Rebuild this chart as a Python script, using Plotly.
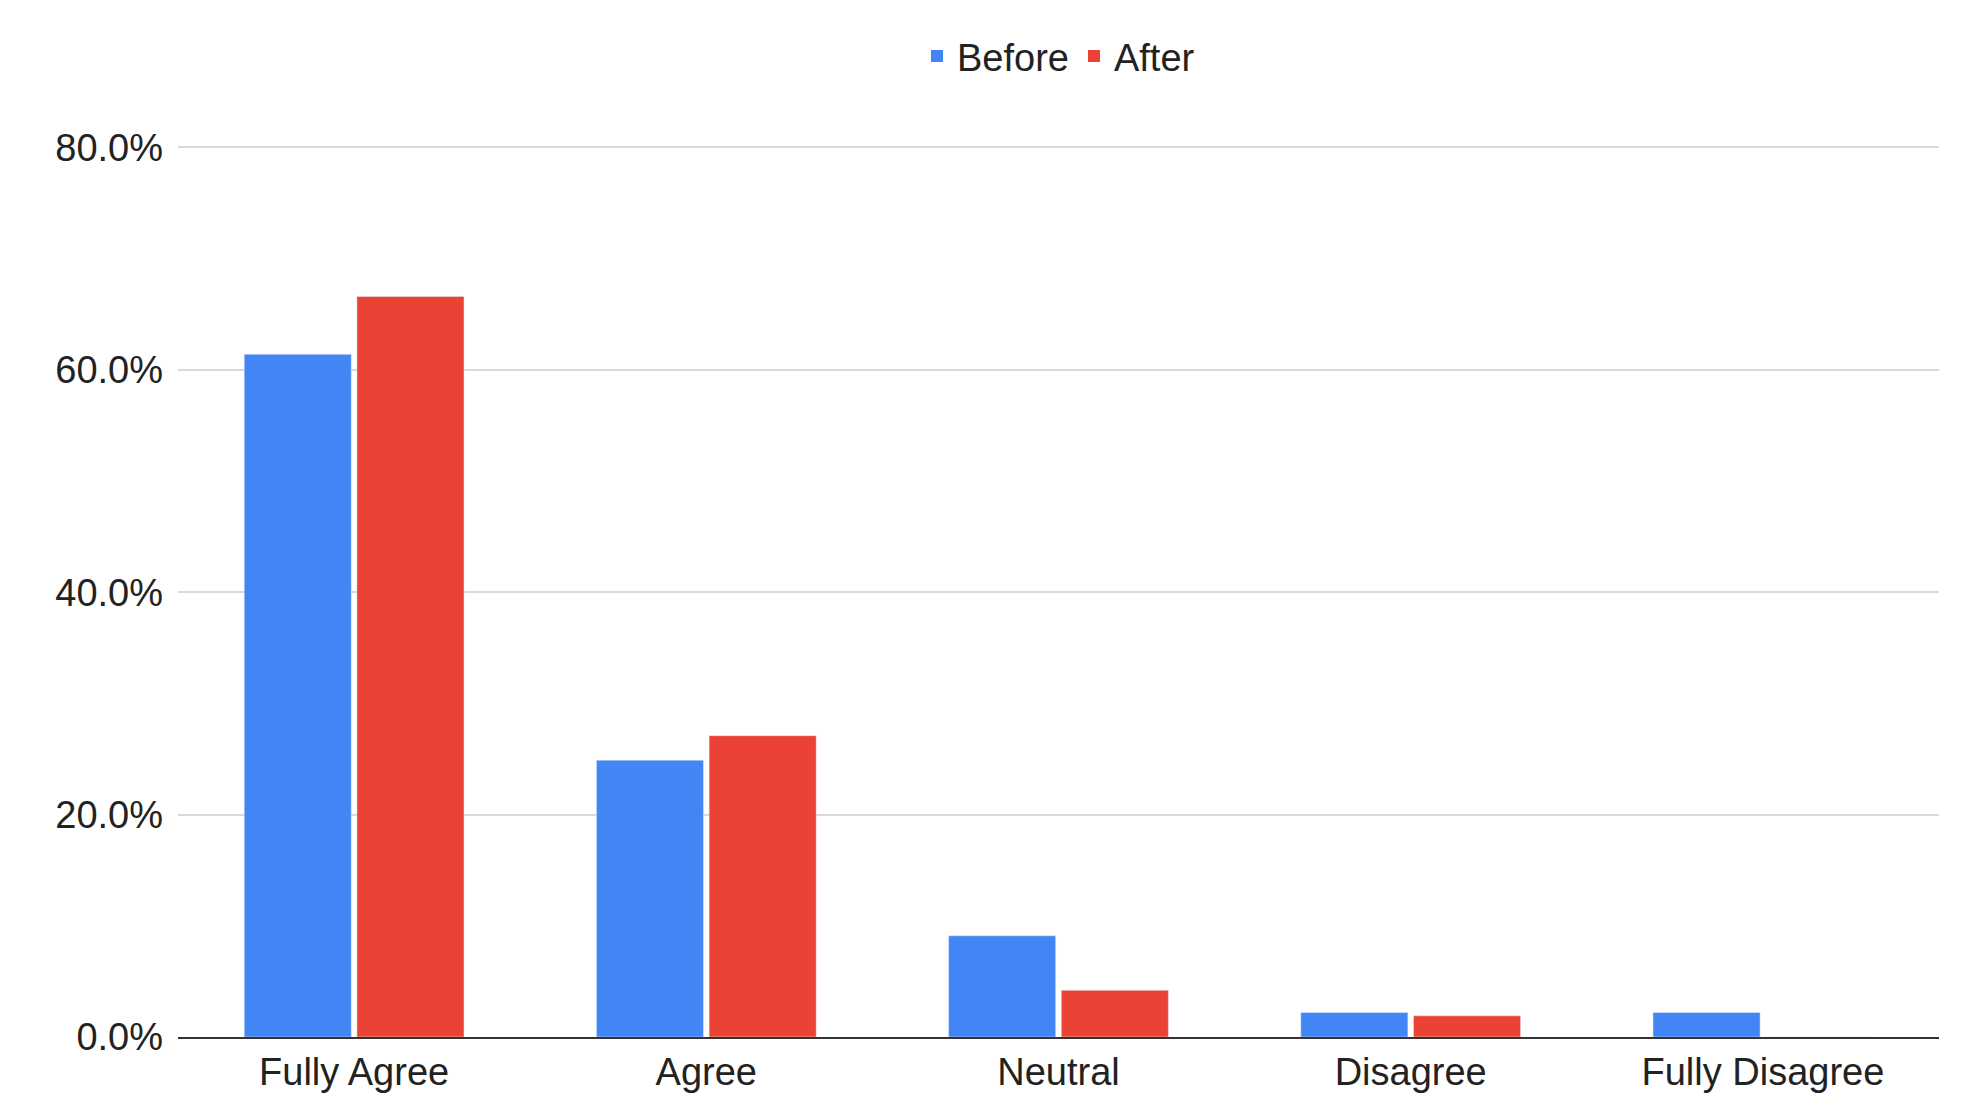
import plotly.graph_objects as go

categories = ["Fully Agree", "Agree", "Neutral", "Disagree", "Fully Disagree"]
before = [61.4, 24.9, 9.1, 2.2, 2.2]
after = [66.6, 27.1, 4.2, 1.9, 0.0]
series_names = ["Before", "After"]
colors = ["#4285F4", "#EA4335"]

fig = go.Figure()
for name, vals, c in zip(series_names, [before, after], colors):
    fig.add_trace(go.Bar(x=categories, y=vals, name=name, marker_color=c, showlegend=False))
# legend-only entries with large square symbols
for name, c in zip(series_names, colors):
    fig.add_trace(go.Scatter(x=[None], y=[None], mode="markers", name=name,
                             marker=dict(symbol="square", size=34, color=c)))

fig.update_layout(
    width=1963, height=1116,
    paper_bgcolor="white", plot_bgcolor="white",
    font=dict(family="Liberation Sans, Arial, sans-serif", size=38, color="#222222"),
    margin=dict(l=170, r=32, t=135, b=87, autoexpand=False),
    barmode="group", bargap=0.36, bargroupgap=0.05,
    legend=dict(orientation="h", x=0.5, xanchor="center", yref="container",
                y=0.985, yanchor="top", font=dict(size=38), itemsizing="constant"),
    xaxis=dict(showline=True, linecolor="#333333", linewidth=2, ticks=""),
    yaxis=dict(range=[0, 80.4], tickvals=[0, 20, 40, 60, 80],
               ticktext=["0.0%", "20.0%", "40.0%", "60.0%", "80.0%"],
               gridcolor="#d9d9d9", gridwidth=2, zeroline=False, ticks="",
               ticklabelstandoff=14),
)
fig.write_html("out.html")
